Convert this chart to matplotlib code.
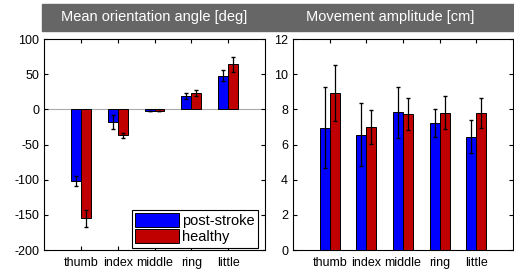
import numpy as np
import matplotlib.pyplot as plt
from matplotlib.patches import Rectangle

plt.rcParams['font.family'] = ['Liberation Sans', 'DejaVu Sans']
plt.rcParams['axes.unicode_minus'] = False

fingers = ['thumb', 'index', 'middle', 'ring', 'little']

# Mean orientation angle [deg]
angle_stroke = [-102, -18, -2, 19, 48]
angle_stroke_err = [7, 10, 0, 4, 8]
angle_healthy = [-155, -37, -2, 23, 64]
angle_healthy_err = [12, 4, 0, 4, 11]

# Movement amplitude [cm]
amp_stroke = [6.95, 6.57, 7.85, 7.23, 6.44]
amp_stroke_err = [2.3, 1.8, 1.45, 0.8, 0.94]
amp_healthy = [8.95, 7.0, 7.72, 7.8, 7.8]
amp_healthy_err = [1.6, 0.95, 0.9, 0.94, 0.85]

blue = '#0000ff'
red = '#c00000'

fig = plt.figure(figsize=(5.14, 2.73), dpi=100)
ax1 = fig.add_axes([0.0856, 0.084, 0.43, 0.773])
ax2 = fig.add_axes([0.570, 0.084, 0.428, 0.773])

# gray title bars
fig.patches.append(Rectangle((42 / 514, 1 - 31 / 273), (266 - 42) / 514, 27 / 273,
                             transform=fig.transFigure, color='#666666', zorder=0))
fig.patches.append(Rectangle((266 / 514, 1 - 31 / 273), (514 - 266) / 514, 27 / 273,
                             transform=fig.transFigure, color='#666666', zorder=0))
fig.text(154 / 514, 1 - 17.5 / 273, 'Mean orientation angle [deg]', color='white',
         fontsize=10.5, ha='center', va='center')
fig.text(390 / 514, 1 - 17.5 / 273, 'Movement amplitude [cm]', color='white',
         fontsize=10.5, ha='center', va='center')

x = np.arange(1, 6)
w = 0.27


def draw(ax, s, se, h, he):
    ax.bar(x - w / 2, s, w, color=blue, edgecolor='black', linewidth=0.7, label='post-stroke', zorder=2)
    ax.bar(x + w / 2, h, w, color=red, edgecolor='black', linewidth=0.7, label='healthy', zorder=2)
    ax.errorbar(x - w / 2, s, yerr=se, fmt='none', ecolor='black', elinewidth=0.9, capsize=1.5, zorder=3)
    ax.errorbar(x + w / 2, h, yerr=he, fmt='none', ecolor='black', elinewidth=0.9, capsize=1.5, zorder=3)
    ax.set_xlim(0, 6)
    ax.set_xticks(x)
    ax.set_xticklabels(fingers)
    ax.tick_params(direction='in', top=True, right=True, labelsize=9, length=3, width=0.8)
    ax.tick_params(axis='x', pad=5)
    for sp in ax.spines.values():
        sp.set_linewidth(0.8)


draw(ax1, angle_stroke, angle_stroke_err, angle_healthy, angle_healthy_err)
ax1.axhline(0, color='#aaaaaa', linewidth=0.8, zorder=1)
ax1.set_ylim(-200, 100)
ax1.set_yticks([-200, -150, -100, -50, 0, 50, 100])
ax1.legend(loc='lower right', bbox_to_anchor=(0.97, 0.012), fontsize=10.5,
           handlelength=3.0, handleheight=1.1, handletextpad=0.2, labelspacing=0.05,
           borderpad=0.25, borderaxespad=0, fancybox=False, edgecolor='black',
           framealpha=1)
ax1.get_legend().get_frame().set_linewidth(0.8)

draw(ax2, amp_stroke, amp_stroke_err, amp_healthy, amp_healthy_err)
ax2.set_ylim(0, 12)
ax2.set_yticks([0, 2, 4, 6, 8, 10, 12])

fig.savefig('out.png', dpi=100)
